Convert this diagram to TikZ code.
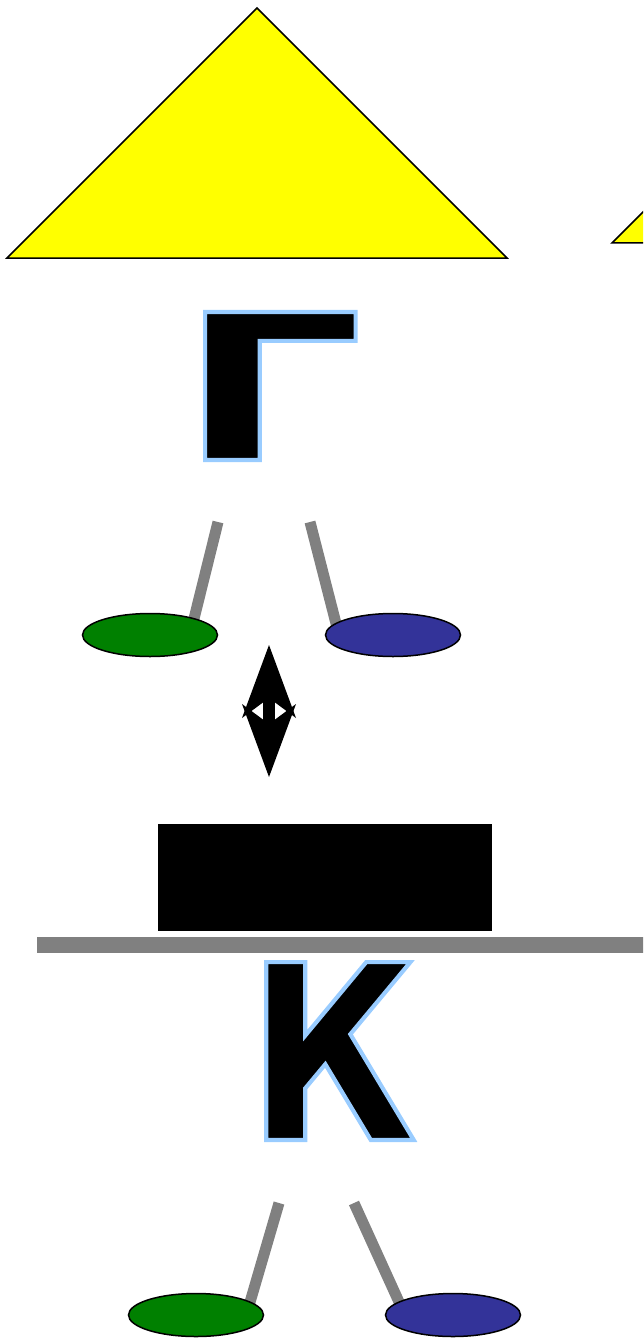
\documentclass[tikz,border=0pt]{standalone}
\usepackage{fontspec}
\newfontfamily\gamfont{DejaVu Sans}[UprightFont=* Bold, FakeStretch=1.43, FakeBold=2]
\newfontfamily\kapfont{DejaVu Sans}[UprightFont=* Bold, FakeStretch=0.85, FakeBold=1.7]
\usetikzlibrary{arrows.meta, backgrounds, shapes.geometric}

\definecolor{navyfill}{RGB}{51,51,153}
\definecolor{leaffill}{RGB}{0,128,0}
\definecolor{roofyellow}{RGB}{255,255,0}
\definecolor{stalkgray}{RGB}{128,128,128}

\tikzset{
	stalk/.style={draw=stalkgray, line width=11pt, shorten >=-6pt},
	leaf/.style={ellipse, draw, line width=1.5pt, minimum width=135pt, minimum height=43pt, inner sep=0},
	letter/.style={inner sep=0, anchor=base},
	bighead/.tip={Stealth[length=73pt, width=54pt, inset=20pt, line width=0pt]},
}
\newcommand\rimmed[1]{\special{pdf:bcolor [0 0 0] [0.6 0.8 1]}#1\special{pdf:ecolor}}

\begin{document}
\begin{tikzpicture}[x=1pt, y=-1pt]
	\useasboundingbox (0,0) rectangle (643,1340);
	\clip (0,0) rectangle (643,1340);
	\draw [fill=roofyellow, line width=1.5pt] (7,258) -- (257,8) -- (507,258) -- cycle;
	\draw [fill=roofyellow, line width=1.5pt] (612,243) -- (862,-7) -- (1112,243) -- cycle;
	\node [letter, font=\gamfont\fontsize{203}{203}\selectfont] (gam) at (271,460) {\rimmed{Г}};
	\coordinate (s1) at (218,522);
	\coordinate (s2) at (310,522);
	\node [leaf, fill=leaffill] (lg1) at (150,635) {};
	\node [leaf, fill=navyfill] (rb1) at (393,635) {};
	\coordinate (tipup) at (269,645);
	\coordinate (tipdn) at (269,777);
	\draw [line width=12pt, bighead-bighead] (tipup) -- (tipdn);
	\fill (158,824) rectangle (492,931);
	\draw [stalkgray, line width=16pt] (37,945) -- (650,945);
	\node [letter, font=\kapfont\fontsize{244}{244}\selectfont] (kap) at (332,1140) {\rimmed{К}};
	\coordinate (s3) at (279,1203);
	\coordinate (s4) at (354,1203);
	\node [leaf, fill=leaffill] (lg2) at (196,1315) {};
	\node [leaf, fill=navyfill] (rb2) at (453,1315) {};
	\begin{scope}[on background layer]
		\draw [stalk] (s1) -- (lg1.21);
		\draw [stalk] (s2) -- (rb1.168);
		\draw [stalk] (s3) -- (lg2.14);
		\draw [stalk] (s4) -- (rb2.166);
	\end{scope}
\end{tikzpicture}
\end{document}
